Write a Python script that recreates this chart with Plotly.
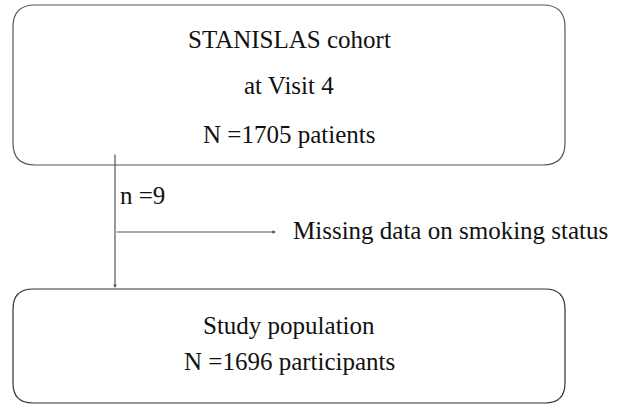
import plotly.graph_objects as go

top_lines = ["STANISLAS cohort", "at Visit 4", "N =1705 patients"]
bottom_lines = ["Study population", "N =1696 participants"]
excluded_n = "n =9"
excluded_label = "Missing data on smoking status"

W, H = 619, 404
FONT = dict(family="Liberation Serif, Times New Roman, serif", size=25, color="#111")
LINE_TOP = "#555"
LINE_BOT = "#333"

def rrect(x0, y0, x1, y1, r):
    return (f"M {x0+r},{y0} L {x1-r},{y0} Q {x1},{y0} {x1},{y0+r} "
            f"L {x1},{y1-r} Q {x1},{y1} {x1-r},{y1} L {x0+r},{y1} "
            f"Q {x0},{y1} {x0},{y1-r} L {x0},{y0+r} Q {x0},{y0} {x0+r},{y0} Z")

fig = go.Figure()
shapes = [
    dict(type="path", path=rrect(13, 5, 565, 165, 22), xref="x", yref="y",
         line=dict(color=LINE_TOP, width=1.2)),
    dict(type="path", path=rrect(13, 289, 565, 403, 20), xref="x", yref="y",
         line=dict(color=LINE_BOT, width=1.2)),
]
annotations = []
CX = 289
for txt, y in zip(top_lines, [39, 85, 134]):
    annotations.append(dict(x=CX, y=y, text=txt, showarrow=False, font=FONT,
                            xref="x", yref="y", xanchor="center", yanchor="middle"))
for txt, y in zip(bottom_lines, [325, 361]):
    annotations.append(dict(x=CX, y=y, text=txt, showarrow=False, font=FONT,
                            xref="x", yref="y", xanchor="center", yanchor="middle"))
annotations.append(dict(x=118, y=195, text=excluded_n, showarrow=False, font=FONT,
                        xref="x", yref="y", xanchor="left", yanchor="middle"))
annotations.append(dict(x=291, y=230, text=excluded_label, showarrow=False, font=FONT,
                        xref="x", yref="y", xanchor="left", yanchor="middle"))
# arrows
annotations.append(dict(x=115, y=288, ax=115, ay=153, xref="x", yref="y", axref="x", ayref="y",
                        showarrow=True, arrowhead=2, arrowsize=0.6, arrowwidth=1.2,
                        arrowcolor=LINE_TOP, text=""))
annotations.append(dict(x=276, y=232, ax=115, ay=232, xref="x", yref="y", axref="x", ayref="y",
                        showarrow=True, arrowhead=2, arrowsize=0.6, arrowwidth=1.2,
                        arrowcolor=LINE_TOP, text=""))

fig.update_layout(
    width=W, height=H, autosize=False,
    margin=dict(l=0, r=0, t=0, b=0),
    paper_bgcolor="white", plot_bgcolor="white",
    xaxis=dict(range=[0, W], visible=False, fixedrange=True),
    yaxis=dict(range=[H, 0], visible=False, fixedrange=True),
    shapes=shapes, annotations=annotations, showlegend=False,
)
fig.write_html("out.html", config={"displayModeBar": False},
               post_script="document.body.style.margin='0';")
